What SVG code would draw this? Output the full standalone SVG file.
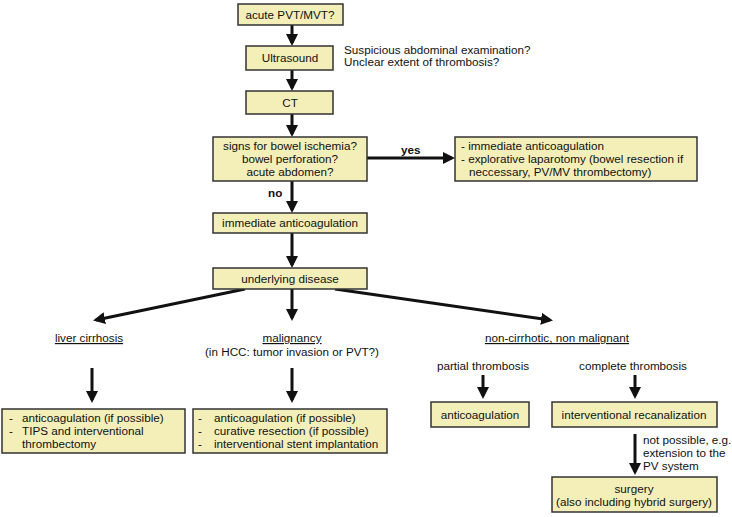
<svg xmlns="http://www.w3.org/2000/svg" width="732" height="517" viewBox="0 0 732 517">
<defs>
<marker id="ah" markerWidth="4" markerHeight="4" refX="3" refY="2" orient="auto" markerUnits="strokeWidth">
<path d="M0,0 L4,2 L0,4 Z" fill="#111"/>
</marker>
<style>
.box{fill:#f4efb9;stroke:#333;stroke-width:1.5}
text{font-family:"Liberation Sans",Arial,sans-serif;font-size:11.7px;fill:#111}
.c{text-anchor:middle}
.u{text-decoration:underline}
.ln{stroke:#111;stroke-width:3;fill:none;marker-end:url(#ah)}
</style>
</defs>
<rect width="732" height="517" fill="#fff"/>
<g id="connectors">
<line class="ln" x1="292" y1="25" x2="292" y2="43"/>
<line class="ln" x1="292" y1="70" x2="292" y2="88"/>
<line class="ln" x1="292" y1="114" x2="292" y2="134"/>
<line class="ln" x1="367" y1="158" x2="452" y2="158"/>
<line class="ln" x1="292" y1="181" x2="292" y2="210"/>
<line class="ln" x1="292" y1="233" x2="292" y2="265"/>
<line class="ln" x1="245" y1="289" x2="96" y2="320"/>
<line class="ln" x1="292" y1="289" x2="292" y2="318"/>
<line class="ln" x1="335" y1="289" x2="550" y2="320"/>
<line class="ln" x1="92" y1="368" x2="92" y2="400"/>
<line class="ln" x1="292" y1="368" x2="292" y2="400"/>
<line class="ln" x1="483" y1="375" x2="483" y2="396"/>
<line class="ln" x1="635" y1="375" x2="635" y2="396"/>
<line class="ln" x1="635" y1="434" x2="635" y2="472"/>
</g>
<g id="n1"><rect class="box" x="238" y="4" width="105" height="21"/><text class="c" x="290" y="18.5">acute PVT/MVT?</text></g>
<g id="note1"><text x="344" y="54">Suspicious abdominal examination?</text><text x="344" y="66">Unclear extent of thrombosis?</text></g>
<g id="n2"><rect class="box" x="246" y="46" width="87" height="24"/><text class="c" x="290" y="62">Ultrasound</text></g>
<g id="n3"><rect class="box" x="246" y="91" width="87" height="23"/><text class="c" x="290" y="106.5">CT</text></g>
<g id="n4"><rect class="box" x="213" y="137" width="154" height="44"/><text class="c" x="290" y="150">signs for bowel ischemia?</text><text class="c" x="290" y="163">bowel perforation?</text><text class="c" x="290" y="176">acute abdomen?</text></g>
<g id="lyes"><text x="401" y="154" font-weight="bold">yes</text></g>
<g id="lno"><text x="268" y="197" font-weight="bold">no</text></g>
<g id="n5"><rect class="box" x="455" y="137" width="242" height="44"/><text x="461" y="150">- immediate anticoagulation</text><text x="461" y="163">- explorative  laparotomy (bowel resection if</text><text x="469" y="176">neccessary, PV/MV thrombectomy)</text></g>
<g id="n6"><rect class="box" x="213" y="213" width="154" height="20"/><text class="c" x="290" y="227">immediate anticoagulation</text></g>
<g id="n7"><rect class="box" x="213" y="268" width="154" height="21"/><text class="c" x="290" y="282.5">underlying disease</text></g>
<g id="l1"><text class="c u" x="89" y="342">liver cirrhosis</text></g>
<g id="l2"><text class="c u" x="292" y="342">malignancy</text><text class="c" x="292" y="356">(in HCC: tumor invasion or PVT?)</text></g>
<g id="l3"><text class="c u" x="557" y="342">non-cirrhotic, non malignant</text></g>
<g id="l4"><text class="c" x="483" y="370">partial thrombosis</text><text class="c" x="633" y="370">complete thrombosis</text></g>
<g id="n8"><rect class="box" x="2" y="409" width="183" height="44"/><text x="9" y="422">-</text><text x="22" y="422">anticoagulation (if possible)</text><text x="9" y="435">-</text><text x="22" y="435">TIPS  and interventional</text><text x="22" y="448">thrombectomy</text></g>
<g id="n9"><rect class="box" x="193" y="409" width="194" height="44"/><text x="198" y="422">-</text><text x="214" y="422">anticoagulation (if possible)</text><text x="198" y="435">-</text><text x="214" y="435">curative resection (if possible)</text><text x="198" y="448">-</text><text x="214" y="448">interventional stent implantation</text></g>
<g id="n10"><rect class="box" x="431" y="402" width="98" height="25"/><text class="c" x="480" y="418.5">anticoagulation</text></g>
<g id="n11"><rect class="box" x="552" y="402" width="165" height="25"/><text class="c" x="634" y="418.5">interventional recanalization</text></g>
<g id="l5"><text x="643" y="444">not possible, e.g.</text><text x="643" y="457">extension to the</text><text x="643" y="470">PV system</text></g>
<g id="n12"><rect class="box" x="552" y="477" width="165" height="35"/><text class="c" x="634" y="493">surgery</text><text class="c" x="634" y="506">(also including hybrid surgery)</text></g>
</svg>
